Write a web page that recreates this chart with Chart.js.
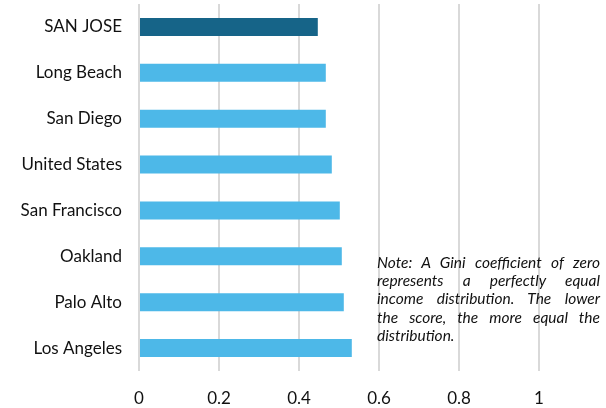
<!DOCTYPE html>
<html>
<head>
<meta charset="utf-8">
<script src="https://cdn.jsdelivr.net/npm/chart.js@4"></script>
<style>
  html, body { margin: 0; padding: 0; background: #fff; }
  #wrap { position: relative; width: 606px; height: 408px; }
  canvas { position: absolute; left: 0; top: 0; }
  #note {
    position: absolute; left: 377px; top: 253px; width: 223px;
    font-family: Lato, "Open Sans", sans-serif; font-style: italic;
    font-size: 15.5px; line-height: 18.2px; color: #111;
  }
  #note .j { text-align: justify; text-align-last: justify; }
</style>
</head>
<body>
<div id="wrap">
  <canvas id="c" width="606" height="408"></canvas>
  <div id="note"><div class="j">Note: A Gini coefficient of zero</div><div class="j">represents a perfectly equal</div><div class="j">income distribution. The lower</div><div class="j">the score, the more equal the</div><div>distribution.</div></div>
</div>
<script>
const categories = ["SAN JOSE", "Long Beach", "San Diego", "United States", "San Francisco", "Oakland", "Palo Alto", "Los Angeles"];
const giniValues = [0.447, 0.467, 0.467, 0.482, 0.502, 0.507, 0.512, 0.532];
const xTicks = [0, 0.2, 0.4, 0.6, 0.8, 1];
const highlightCategory = "SAN JOSE";

const barColors = categories.map(c => c === highlightCategory ? "#166488" : "#4db8e8");

new Chart(document.getElementById("c"), {
  type: "bar",
  data: {
    labels: categories,
    datasets: [{
      data: giniValues,
      backgroundColor: barColors,
      borderWidth: 0,
      categoryPercentage: 1,
      barPercentage: 0.39
    }]
  },
  options: {
    indexAxis: "y",
    responsive: false,
    animation: false,
    layout: { padding: { left: 0, right: 67, top: 4, bottom: 0 } },
    plugins: { legend: { display: false }, tooltip: { enabled: false } },
    scales: {
      x: {
        min: xTicks[0], max: xTicks[xTicks.length - 1],
        afterBuildTicks: s => { s.ticks = xTicks.map(v => ({ value: v })); },
        grid: { color: "#d9d9d9", lineWidth: 2, drawTicks: false },
        border: { display: false },
        ticks: { color: "#111", padding: 17, font: { family: "Lato", size: 17 }, callback: v => String(v) },
        afterFit: s => { s.height = 37; }
      },
      y: {
        grid: { display: false, drawTicks: true, tickLength: 17 },
        border: { display: false },
        ticks: { color: "#111", padding: 0, font: { family: "Lato", size: 17 } },
        afterFit: s => { s.width = 139; s.paddingTop = 0; s.paddingBottom = 0; }
      }
    }
  }
});
</script>
</body>
</html>
